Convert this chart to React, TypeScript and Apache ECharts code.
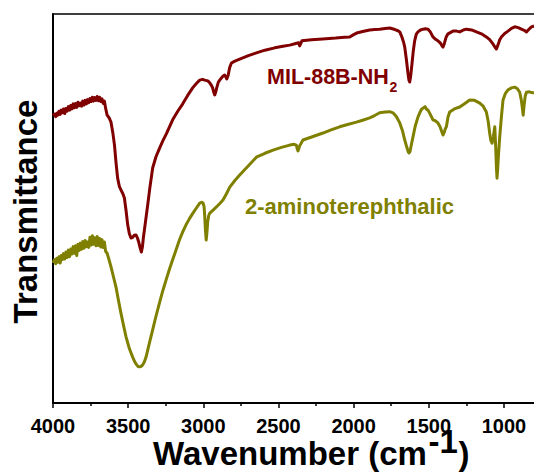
import { useEffect, useRef } from "react";
import * as echarts from "echarts";

// FTIR spectra: [wavenumber (cm-1), transmittance (a.u.)]
const milSpectrum: [number, number][] = [
  [4000, 73.9], [3990, 74.3], [3982, 73.6], [3975, 74.5], [3968, 74.0], [3960, 75.0],
  [3952, 74.2], [3945, 75.3], [3938, 74.6], [3930, 75.6], [3922, 74.4], [3915, 75.7],
  [3906, 75.0], [3898, 76.2], [3890, 75.3], [3882, 76.5], [3874, 75.6], [3866, 76.9],
  [3858, 75.9], [3850, 77.0], [3842, 76.0], [3834, 77.3], [3826, 76.4], [3818, 77.1],
  [3810, 76.3], [3802, 77.6], [3794, 76.6], [3786, 77.8], [3778, 76.9], [3770, 78.0],
  [3762, 77.2], [3754, 78.3], [3746, 77.5], [3738, 78.6], [3730, 77.6], [3722, 78.5],
  [3714, 77.8], [3706, 78.8], [3698, 77.7], [3690, 78.6], [3682, 77.5], [3674, 78.2],
  [3666, 77.0], [3658, 77.6], [3650, 75.8], [3640, 74.0], [3628, 73.4], [3614, 72.2],
  [3602, 69.5], [3591, 66.3], [3580, 61.5], [3570, 57.8], [3558, 55.6], [3548, 54.8],
  [3535, 53.8], [3525, 52.7], [3514, 49.5], [3503, 45.8], [3492, 43.5], [3481, 42.4],
  [3470, 42.6], [3460, 43.1], [3448, 43.2], [3438, 42.4], [3430, 41.4], [3420, 39.8],
  [3412, 38.8], [3405, 40.2], [3399, 42.4], [3385, 46.5], [3370, 50.9], [3355, 55.5],
  [3337, 60.4], [3315, 63.3], [3290, 65.6], [3268, 67.5], [3246, 69.2], [3225, 71.0],
  [3204, 72.8], [3170, 75.0], [3137, 76.9], [3105, 79.0], [3071, 81.0], [3045, 82.2],
  [3024, 83.0], [3005, 83.2], [2991, 83.0], [2970, 82.8], [2957, 82.3], [2945, 81.6],
  [2938, 81.0], [2930, 79.8], [2924, 79.2], [2917, 80.0], [2911, 81.0], [2900, 82.5],
  [2891, 83.0], [2870, 84.0], [2858, 84.3], [2850, 83.8], [2844, 83.3], [2835, 84.2],
  [2825, 86.2], [2813, 87.4], [2790, 87.9], [2758, 88.4], [2700, 89.3], [2647, 90.0],
  [2590, 90.7], [2525, 91.3], [2470, 91.7], [2425, 92.0], [2385, 92.4], [2365, 92.6],
  [2359, 91.8], [2352, 92.4], [2344, 93.1], [2280, 93.4], [2206, 93.6], [2120, 93.8],
  [2060, 94.0], [2026, 94.1], [2000, 94.7], [1980, 95.1], [1940, 95.5], [1893, 95.9],
  [1860, 96.0], [1827, 96.1], [1790, 96.3], [1760, 96.4], [1725, 96.0], [1705, 95.7],
  [1693, 95.4], [1680, 94.2], [1668, 92.8], [1660, 91.5], [1648, 88.0], [1638, 84.6],
  [1632, 83.0], [1627, 82.5], [1620, 84.2], [1612, 87.1], [1603, 90.5], [1594, 93.1],
  [1583, 94.8], [1572, 95.4], [1555, 95.9], [1538, 96.1], [1522, 96.2], [1505, 96.1],
  [1490, 95.4], [1472, 94.1], [1455, 93.5], [1439, 93.1], [1422, 92.5], [1412, 91.8],
  [1405, 91.5], [1396, 92.5], [1385, 94.0], [1372, 94.9], [1339, 95.6], [1315, 95.6],
  [1294, 95.4], [1270, 95.9], [1250, 96.1], [1215, 95.9], [1183, 95.4], [1150, 94.9],
  [1117, 94.1], [1095, 93.4], [1073, 92.3], [1060, 91.5], [1050, 91.0], [1040, 92.0],
  [1028, 93.4], [1017, 94.1], [995, 95.0], [973, 95.6], [950, 96.3], [928, 96.7],
  [905, 96.5], [884, 96.1], [865, 95.8], [850, 95.4], [835, 96.0], [817, 96.7], [800, 96.9],
];

const aminoSpectrum: [number, number][] = [
  [4000, 36.0], [3990, 36.8], [3982, 35.8], [3975, 37.2], [3968, 36.2], [3960, 37.6],
  [3952, 36.0], [3945, 37.9], [3938, 36.9], [3930, 38.4], [3922, 37.0], [3914, 38.8],
  [3906, 37.4], [3898, 39.3], [3890, 37.6], [3882, 39.6], [3874, 38.3], [3866, 40.2],
  [3858, 38.5], [3850, 40.4], [3842, 37.9], [3834, 40.8], [3826, 39.2], [3818, 41.1],
  [3810, 39.5], [3802, 41.5], [3794, 39.8], [3786, 41.8], [3778, 40.2], [3770, 41.4],
  [3762, 40.0], [3754, 42.6], [3746, 40.6], [3738, 43.0], [3730, 40.8], [3722, 42.5],
  [3714, 40.4], [3706, 42.8], [3698, 40.5], [3690, 42.3], [3682, 40.1], [3674, 42.0],
  [3666, 40.0], [3658, 41.4], [3650, 39.0], [3640, 38.5], [3630, 37.2], [3614, 35.0],
  [3598, 32.5], [3581, 29.8], [3565, 26.5], [3548, 23.1], [3530, 19.8], [3514, 17.0],
  [3492, 14.0], [3470, 11.8], [3455, 10.5], [3443, 9.8], [3434, 9.4], [3425, 9.3],
  [3414, 9.4], [3403, 9.8], [3392, 10.6], [3381, 11.8], [3360, 15.2], [3337, 18.8],
  [3315, 22.3], [3292, 25.7], [3270, 28.8], [3248, 31.6], [3226, 34.3], [3204, 36.8],
  [3181, 39.4], [3159, 41.9], [3137, 44.0], [3115, 45.8], [3092, 47.4], [3069, 48.8],
  [3045, 50.2], [3024, 51.4], [3010, 51.6], [3002, 51.4], [2995, 50.5], [2991, 48.3],
  [2986, 44.5], [2981, 41.9], [2976, 43.8], [2971, 46.5], [2964, 48.2], [2957, 48.8],
  [2935, 49.6], [2913, 50.4], [2890, 51.3], [2869, 52.2], [2846, 53.8], [2824, 55.5],
  [2790, 57.2], [2758, 58.6], [2700, 61.0], [2647, 63.2], [2590, 64.2], [2536, 65.0],
  [2480, 65.7], [2425, 66.3], [2395, 66.5], [2381, 66.3], [2375, 65.3], [2370, 64.8],
  [2364, 65.5], [2359, 66.1], [2337, 67.6], [2270, 68.5], [2204, 69.4], [2150, 70.2],
  [2093, 71.0], [2040, 71.6], [1982, 72.2], [1940, 72.7], [1893, 73.3], [1860, 73.9],
  [1827, 74.6], [1790, 74.8], [1760, 74.9], [1738, 74.6], [1715, 73.6], [1693, 72.0],
  [1675, 70.0], [1660, 67.6], [1645, 65.6], [1636, 64.5], [1631, 64.3], [1625, 64.6],
  [1618, 66.0], [1605, 68.4], [1590, 71.2], [1572, 73.5], [1560, 74.6], [1548, 75.5],
  [1538, 75.8], [1525, 76.2], [1515, 75.5], [1505, 75.3], [1490, 74.2], [1472, 72.8],
  [1455, 72.5], [1439, 72.0], [1425, 71.0], [1414, 69.8], [1405, 68.9], [1398, 69.5],
  [1390, 70.5], [1383, 71.0], [1372, 73.5], [1361, 74.8], [1330, 75.6], [1294, 76.1],
  [1260, 77.0], [1228, 77.9], [1195, 77.8], [1161, 77.1], [1138, 76.3], [1117, 74.8],
  [1105, 72.5], [1095, 69.4], [1087, 67.5], [1079, 66.8], [1070, 68.5], [1061, 71.0],
  [1055, 66.0], [1050, 60.5], [1046, 57.8], [1042, 60.0], [1036, 64.0], [1028, 68.4],
  [1017, 73.5], [1006, 77.9], [990, 79.6], [973, 80.5], [950, 81.0], [928, 81.2],
  [910, 80.8], [895, 79.9], [885, 78.0], [878, 76.0], [872, 74.0], [866, 76.5],
  [858, 79.0], [850, 79.9], [830, 80.0], [815, 79.8], [800, 79.7],
];

const majorTicks = [1000, 1500, 2000, 2500, 3000, 3500, 4000];
const minorTicks = [1250, 1750, 2250, 2750, 3250, 3750];

const MIL_COLOR = "#800000";
const AMINO_COLOR = "#808000";
const FONT = "'Liberation Sans', Arial, sans-serif";

function buildOption() {
  const xRange = { min: 800, max: 4000, inverse: true };
  const textEl = (
    text: string,
    x: number,
    y: number,
    size: number,
    fill: string,
    align = "left",
    rotation = 0
  ) => ({
    type: "text",
    x,
    y,
    rotation,
    silent: true,
    style: {
      text,
      fill,
      font: `bold ${size}px ${FONT}`,
      textAlign: align,
      textVerticalAlign: "middle",
    },
  });

  const titleSize = 33;

  return {
    animation: false,
    backgroundColor: "#ffffff",
    grid: { left: 53, right: 0, top: 14, bottom: 70, containLabel: false },
    xAxis: [
      {
        type: "value",
        position: "bottom",
        ...xRange,
        axisLine: { show: true, onZero: false, lineStyle: { color: "#000", width: 2 } },
        axisTick: {
          show: true,
          customValues: majorTicks,
          length: 5,
          inside: false,
          lineStyle: { color: "#000", width: 1.5 },
        },
        axisLabel: {
          show: true,
          customValues: majorTicks,
          formatter: (v: number) => String(v),
          margin: 13,
          color: "#000",
          fontSize: 20,
          fontWeight: "bold",
          fontFamily: FONT,
        },
        splitLine: { show: false },
      },
      {
        type: "value",
        position: "bottom",
        ...xRange,
        axisLine: { show: false, onZero: false },
        axisTick: {
          show: true,
          customValues: minorTicks,
          length: 3,
          inside: false,
          lineStyle: { color: "#000", width: 1.5 },
        },
        axisLabel: { show: false },
        splitLine: { show: false },
      },
      {
        type: "value",
        position: "top",
        ...xRange,
        axisLine: { show: true, onZero: false, lineStyle: { color: "#000", width: 1.5 } },
        axisTick: { show: false },
        axisLabel: { show: false },
        splitLine: { show: false },
      },
    ],
    yAxis: {
      type: "value",
      min: 0,
      max: 100,
      axisLine: { show: true, onZero: false, lineStyle: { color: "#000", width: 2 } },
      axisTick: { show: false },
      axisLabel: { show: false },
      splitLine: { show: false },
    },
    series: [
      {
        name: "MIL-88B-NH2",
        type: "line",
        xAxisIndex: 0,
        data: milSpectrum,
        showSymbol: false,
        symbol: "none",
        lineStyle: { color: MIL_COLOR, width: 3, join: "round" },
        z: 3,
      },
      {
        name: "2-aminoterephthalic",
        type: "line",
        xAxisIndex: 0,
        data: aminoSpectrum,
        showSymbol: false,
        symbol: "none",
        lineStyle: { color: AMINO_COLOR, width: 3, join: "round" },
        z: 2,
      },
    ],
    graphic: [
      textEl("MIL-88B-NH", 267, 77, 21.5, MIL_COLOR),
      textEl("2", 389.5, 87, 14, MIL_COLOR),
      textEl("2-aminoterephthalic", 245, 206, 22, AMINO_COLOR),
      textEl("Transmittance", 25.5, 211.5, titleSize, "#000", "center", Math.PI / 2),
      // x-axis title: main text, raised "-1" exponent, closing bracket
      textEl("Wavenumber (cm", 153, 453.6, titleSize, "#000"),
      textEl("-1", 428.5, 441.6, titleSize, "#000"),
      textEl(")", 458.5, 453.6, titleSize, "#000"),
    ],
  };
}

export default function App() {
  const ref = useRef<HTMLDivElement>(null);

  useEffect(() => {
    if (!ref.current) return;
    const chart = echarts.init(ref.current, null, { renderer: "svg" });
    chart.setOption(buildOption() as any);
    return () => chart.dispose();
  }, []);

  return (
    <div
      ref={ref}
      style={{
        position: "fixed",
        left: 0,
        top: 0,
        width: 534,
        height: 473,
        background: "#ffffff",
      }}
    />
  );
}
